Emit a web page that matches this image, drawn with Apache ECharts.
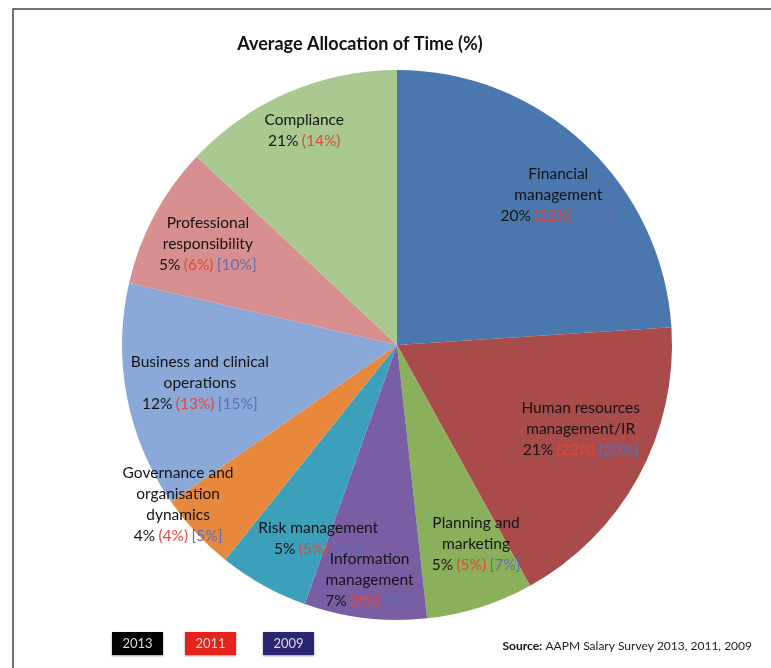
<!DOCTYPE html>
<html>
<head>
<meta charset="utf-8">
<script src="https://cdn.jsdelivr.net/npm/echarts@6.0.0/dist/echarts.min.js"></script>
<style>
  html, body { margin: 0; padding: 0; background: #fff; }
  #chart { width: 771px; height: 668px; }
</style>
</head>
<body>
<div id="chart"></div>
<script>
// Slices clockwise from 12 o'clock
const categories = [
  "Financial\nmanagement",
  "Human resources\nmanagement/IR",
  "Planning and\nmarketing",
  "Information\nmanagement",
  "Risk management",
  "Governance and\norganisation\ndynamics",
  "Business and clinical\noperations",
  "Professional\nresponsibility",
  "Compliance"
];
// slice sizes as drawn in the picture (% of circle)
const sliceShare = [24, 18, 6.3, 7.2, 5.3, 4.6, 13.3, 8.4, 13];
// printed values per survey year
const v2013 = [20, 21, 5, 7, 5, 4, 12, 5, 21];
const v2011 = [22, 22, 5, 8, 5, 4, 13, 6, 14];
const v2009 = [27, 20, 7, 8, 6, 5, 15, 10, null];
const years = ["2013", "2011", "2009"];

const colors = ["#4a77ae", "#a84b4a", "#8bb05b", "#7a5ea3", "#3ca0bb",
                "#e7883d", "#8aa8d8", "#d88f8f", "#aac991"];

// label placement: radius fraction and angle nudge (deg)
const labelPlace = [[0.80, 4], [0.735, -4], [0.78, -4], [0.86, 0], [0.76, -7],
                    [0.985, 7], [0.73, 0], [0.78, 0], [0.85, 0]];

const cx = 397, cy = 345, R = 275;
const FONT = "Lato, 'Open Sans', sans-serif";

const total = sliceShare.reduce((a, b) => a + b, 0);
const midAngles = [];
let acc = 0;
sliceShare.forEach((v) => {
  midAngles.push((acc + v / 2) / total * 360);
  acc += v;
});

const labelText = (i) => {
  const name = categories[i].split("\n").map((s) => `{n|${s}}`).join("\n");
  let vals = `{n|${v2013[i]}%} {r|(${v2011[i]}%)}`;
  if (v2009[i] != null) vals += ` {b|[${v2009[i]}%]}`;
  return name + "\n" + vals;
};

const chart = echarts.init(document.getElementById("chart"));

chart.setOption({
  animation: false,
  graphic: [
    {
      type: "rect",
      shape: { x: 13, y: 9, width: 800, height: 700 },
      style: { fill: "none", stroke: "#444", lineWidth: 1.5 }
    },
    {
      type: "text",
      x: 360, y: 44,
      style: {
        text: "Average Allocation of Time (%)",
        font: `bold 18px ${FONT}`,
        fill: "#111",
        align: "center",
        verticalAlign: "middle"
      }
    },
    ...[["#000", 112], ["#e5221b", 185], ["#2b2672", 263]].flatMap(([fill, x], i) => [
      {
        type: "rect",
        shape: { x: x, y: 632, width: 51, height: 23 },
        style: { fill: fill, shadowBlur: 2, shadowColor: "rgba(0,0,0,0.4)", shadowOffsetY: 1 }
      },
      {
        type: "text",
        x: x + 25.5, y: 643.5,
        style: {
          text: years[i],
          font: `13px ${FONT}`,
          fill: "#ddd",
          align: "center",
          verticalAlign: "middle"
        }
      }
    ]),
    {
      type: "text",
      x: 752, y: 646,
      style: {
        text: "{s|Source:} {t|AAPM Salary Survey 2013, 2011, 2009}",
        align: "right",
        verticalAlign: "middle",
        rich: {
          s: { font: `bold 12px ${FONT}`, fill: "#111" },
          t: { font: `12px ${FONT}`, fill: "#222" }
        }
      }
    }
  ],
  series: [
    {
      type: "pie",
      center: [cx, cy],
      radius: [0, R],
      startAngle: 90,
      clockwise: true,
      avoidLabelOverlap: false,
      emphasis: { disabled: true },
      itemStyle: { borderWidth: 0 },
      data: sliceShare.map((v, i) => ({
        value: v,
        name: categories[i],
        itemStyle: { color: colors[i] }
      })),
      label: {
        show: true,
        position: "inside",
        formatter: (p) => labelText(p.dataIndex),
        align: "center",
        lineHeight: 21,
        rich: {
          n: { fontFamily: FONT, fontSize: 15.5, color: "#141414", lineHeight: 21 },
          r: { fontFamily: FONT, fontSize: 15.5, color: "#e2473a", lineHeight: 21 },
          b: { fontFamily: FONT, fontSize: 15.5, color: "#5f6db3", lineHeight: 21 }
        }
      },
      labelLine: { show: false },
      labelLayout: (p) => {
        const [f, d] = labelPlace[p.dataIndex];
        const a = (midAngles[p.dataIndex] + d) * Math.PI / 180;
        return {
          x: cx + f * R * Math.sin(a),
          y: cy - f * R * Math.cos(a),
          align: "center",
          verticalAlign: "middle"
        };
      }
    }
  ]
});
</script>
</body>
</html>
